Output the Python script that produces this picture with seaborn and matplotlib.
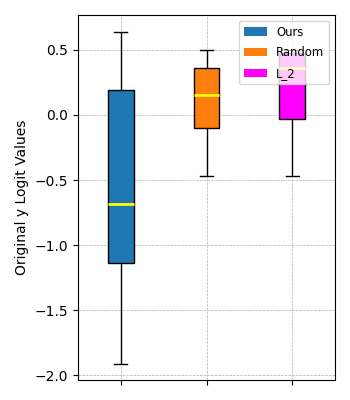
import pandas as pd
import seaborn as sns
import matplotlib.pyplot as plt
from matplotlib.patches import Patch

# Summary values: [whisker low, Q1, median, Q3, whisker high]
methods = ["Ours", "Random", "L_2"]
ours_vals = [-1.915, -1.138, -0.685, 0.19, 0.638]
random_vals = [-0.469, -0.10, 0.154, 0.358, 0.50]
l2_vals = [-0.47, -0.03, 0.36, 0.48, 0.50]
colors = ["#1f77b4", "#ff7f0e", "magenta"]

rows = []
for name, vals in zip(methods, [ours_vals, random_vals, l2_vals]):
    for v in vals:
        rows.append({"method": name, "value": v})
df = pd.DataFrame(rows)

fig, ax = plt.subplots(figsize=(3.5, 4), dpi=100)
sns.boxplot(data=df, x="method", y="value", hue="method", palette=colors,
            saturation=1, width=0.3, linecolor="black", linewidth=1,
            medianprops={"color": "yellow", "linewidth": 2},
            whis=1.5, legend=False, ax=ax)

ax.set_axisbelow(True)
ax.grid(True, linestyle="--", linewidth=0.5)
ax.set_xlabel("")
ax.set_xticks(range(len(methods)))
ax.set_xticklabels([])
ax.set_ylabel("Original y Logit Values")
ax.set_xlim(-0.5, 2.5)
ax.set_ylim(-2.038, 0.769)

handles = [Patch(facecolor=c, label=m) for c, m in zip(colors, methods)]
ax.legend(handles=handles, loc="upper right", fontsize=8.4, labelspacing=0.65)

fig.subplots_adjust(left=0.223, right=0.957, top=0.9625, bottom=0.05)
fig.savefig("out.png")
